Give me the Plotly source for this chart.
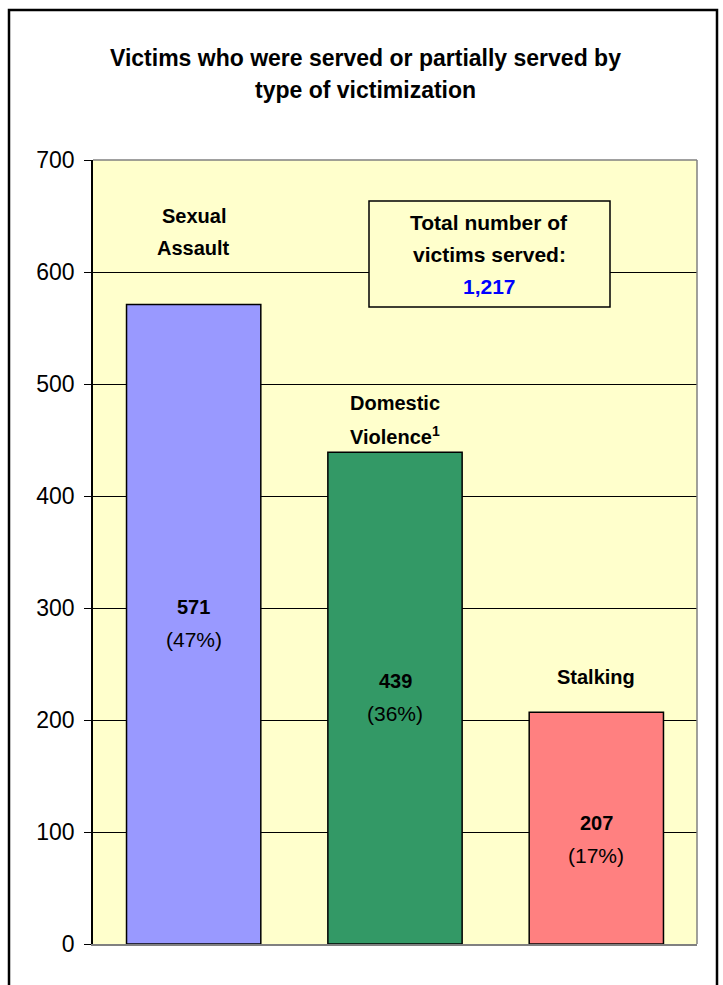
import plotly.graph_objects as go

categories = ["Sexual Assault", "Domestic Violence", "Stalking"]
values = [571, 439, 207]
percents = ["(47%)", "(36%)", "(17%)"]
label_lines = [["Sexual", "Assault"], ["Domestic", "Violence<sup>1</sup>"], ["Stalking"]]
colors = ["#9999FF", "#339966", "#FF8080"]
total_text = "1,217"
y_ticks = [0, 100, 200, 300, 400, 500, 600, 700]

FONT = "Arial, 'Liberation Sans', sans-serif"

fig = go.Figure()
fig.add_trace(go.Bar(
    x=categories, y=values,
    marker=dict(color=colors, line=dict(color="black", width=1.5)),
    hoverinfo="skip",
))

annotations = []
# category labels above bars (pixel offsets above bar top)
label_gap = [40, 1, 19]
for i, (cat, v) in enumerate(zip(categories, values)):
    lines = label_lines[i]
    n = len(lines)
    for j, ln in enumerate(lines):
        annotations.append(dict(
            x=cat, y=v, xref="x", yref="y", text=f"<b>{ln}</b>",
            showarrow=False, yanchor="middle",
            yshift=label_gap[i] + 16 + (n - 1 - j) * 32,
            font=dict(family=FONT, size=20, color="black"),
        ))

# value labels inside bars
mid_shift = [1, 1, -11]
for i, (cat, v) in enumerate(zip(categories, values)):
    annotations.append(dict(
        x=cat, y=v / 2, xref="x", yref="y", text=f"<b>{v}</b>",
        showarrow=False, yanchor="middle", yshift=16 + mid_shift[i],
        font=dict(family=FONT, size=20, color="black"),
    ))
    annotations.append(dict(
        x=cat, y=v / 2, xref="x", yref="y", text=percents[i],
        showarrow=False, yanchor="middle", yshift=-16 + mid_shift[i],
        font=dict(family=FONT, size=21, color="black"),
    ))

# title
W, H = 723, 985
L, R, T, B = 93, 26, 160, 41
pw, ph = W - L - R, H - T - B
def px(xp):
    return (xp - L) / pw
def py(yp):
    return (H - B - yp) / ph

title_lines = ["Victims who were served or partially served by", "type of victimization"]
for j, tl in enumerate(title_lines):
    annotations.append(dict(
        x=px(365), y=py(58 + 32 * j), xref="paper", yref="paper",
        text=f"<b>{tl}</b>", showarrow=False, xanchor="center", yanchor="middle",
        font=dict(family=FONT, size=23, color="black"),
    ))

# total box text
box_lines = [("<b>Total number of</b>", "black"), ("<b>victims served:</b>", "black"), (f"<b>{total_text}</b>", "#0000FF")]
for j, (tl, c) in enumerate(box_lines):
    annotations.append(dict(
        x=px(489), y=py(222 + 32 * j), xref="paper", yref="paper",
        text=tl, showarrow=False, xanchor="center", yanchor="middle",
        font=dict(family=FONT, size=21, color=c),
    ))

shapes = [
    # total box
    dict(type="rect", xref="paper", yref="paper",
         x0=px(369), x1=px(610), y0=py(307), y1=py(201),
         line=dict(color="black", width=1.5), fillcolor="#FFFFCC", layer="above"),
    # plot frame (top/right gray)
    dict(type="line", xref="paper", yref="paper", x0=0, x1=1, y0=1, y1=1,
         line=dict(color="#808080", width=1.5)),
    dict(type="line", xref="paper", yref="paper", x0=1, x1=1, y0=0, y1=1,
         line=dict(color="#808080", width=1.5)),
    # outer chart border
    dict(type="rect", xref="paper", yref="paper",
         x0=px(9), x1=px(717), y0=py(995), y1=py(10),
         line=dict(color="black", width=2.5), fillcolor="rgba(0,0,0,0)"),
]

fig.update_layout(
    width=W, height=H,
    margin=dict(l=L, r=R, t=T, b=B, pad=0),
    paper_bgcolor="white", plot_bgcolor="#FFFFCC",
    bargap=0.333, showlegend=False,
    annotations=annotations, shapes=shapes,
    font=dict(family=FONT, color="black"),
    xaxis=dict(showticklabels=False, showgrid=False, ticks="",
               showline=True, linecolor="#808080", linewidth=1.5, zeroline=False),
    yaxis=dict(range=[0, 700], tickvals=y_ticks, showgrid=True, gridcolor="black",
               gridwidth=1, ticks="outside", ticklen=7, tickcolor="black",
               showline=True, linecolor="black", linewidth=1.5, zeroline=False,
               tickfont=dict(family=FONT, size=23, color="black"), ticklabelstandoff=5),
)

fig.write_html("out.html", config={"displayModeBar": False},
               post_script="document.body.style.margin='0';document.body.style.overflow='hidden';")
